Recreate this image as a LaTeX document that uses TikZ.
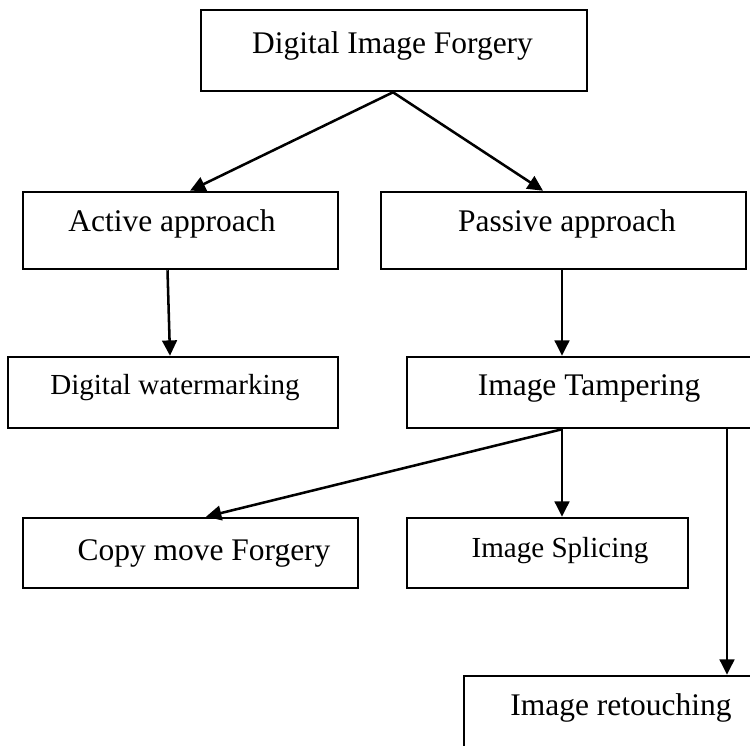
\documentclass[tikz,border=0pt]{standalone}
\usepackage{fontspec}
\setmainfont{Liberation Serif}
\usetikzlibrary{arrows.meta,fit}
\tikzset{
  box/.style={draw, line width=1.9pt, inner sep=0pt, rectangle},
  lbl/.style={anchor=base, inner sep=0pt, font=\fontsize{23.6}{28}\selectfont},
  lblsmall/.style={anchor=base, inner sep=0pt, font=\fontsize{21.8}{26}\selectfont},
  conn/.style={line width=1.9pt, -{Triangle[length=11.5pt,width=11pt]}}
}
\begin{document}
\begin{tikzpicture}[x=0.75pt,y=-0.75pt]
\useasboundingbox (0,0) rectangle (750,746);
\clip (0,0) rectangle (750,746);

% boxes
\node[box, fit={(201,10) (587,91)}] (dif) {};
\node[box, fit={(23,192) (338,269)}] (act) {};
\node[box, fit={(381,192) (746,269)}] (pas) {};
\node[box, fit={(8,357) (338,428)}] (wat) {};
\node[box, fit={(407,357) (770,428)}] (tam) {};
\node[box, fit={(23,518) (358,588)}] (cop) {};
\node[box, fit={(407,518) (688,588)}] (spl) {};
\node[box, fit={(464,676) (770,770)}] (ret) {};

% labels
\node[lbl] (difT) at (392.5,53) {Digital Image Forgery};
\node[lbl] (actT) at (172,231) {Active approach};
\node[lbl] (pasT) at (567,231) {Passive approach};
\node[lblsmall] (watT) at (175,394) {Digital watermarking};
\node[lbl] (tamT) at (589,395) {Image Tampering};
\node[lbl] (copT) at (204,560) {Copy move Forgery};
\node[lblsmall] (splT) at (560,557) {Image Splicing};
\node[lbl] (retT) at (621,715) {Image retouching};

% connectors
\draw[conn] (dif.south -| 393,0) -- (act.north -| 190,0);
\draw[conn] (dif.south -| 393,0) -- (pas.north -| 543,0);
\draw[conn] (act.south -| 167.5,0) -- (wat.north -| 170,0);
\draw[conn] (pas.south -| 562,0) -- (tam.north -| 562,0);
\draw[conn] (tam.south -| 562,0) -- (cop.north -| 206,0);
\draw[conn] (tam.south -| 562,0) -- (spl.north -| 562,0);
\draw[conn] (tam.south -| 727,0) -- (ret.north -| 727,0);
\end{tikzpicture}
\end{document}
